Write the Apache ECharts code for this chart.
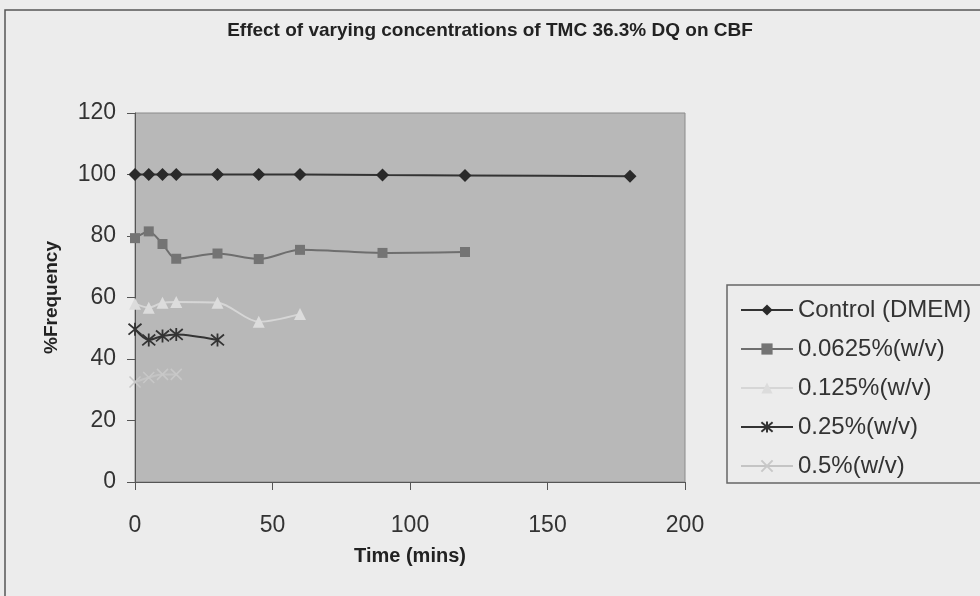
<!DOCTYPE html>
<html>
<head>
<meta charset="utf-8">
<script src="https://cdn.jsdelivr.net/npm/echarts@6/dist/echarts.min.js"></script>
<style>
html,body{margin:0;padding:0;background:#ececec;}
#c{width:980px;height:596px;}
</style>
</head>
<body>
<div id="c"></div>
<script>
const titleText = 'Effect of varying concentrations of TMC 36.3% DQ on CBF';
const xTicks = [0, 50, 100, 150, 200];
const yTicks = [0, 20, 40, 60, 80, 100, 120];

const timesControl = [0, 5, 10, 15, 30, 45, 60, 90, 120, 180];
const valuesControl = [100, 100, 100, 100, 100, 100, 100, 99.8, 99.7, 99.4];

const times0625 = [0, 5, 10, 15, 30, 45, 60, 90, 120];
const values0625 = [79.3, 81.5, 77.4, 72.6, 74.3, 72.5, 75.5, 74.5, 74.8];

const times125 = [0, 5, 10, 15, 30, 45, 60];
const values125 = [58, 56.7, 58.3, 58.5, 58.3, 52.1, 54.6];

const times25 = [0, 5, 10, 15, 30];
const values25 = [49.7, 46.2, 47.5, 48, 46.2];

const times5 = [0, 5, 10, 15];
const values5 = [32.5, 34, 35, 35];

const seriesNames = ['Control (DMEM)', '0.0625%(w/v)', '0.125%(w/v)', '0.25%(w/v)', '0.5%(w/v)'];

function pairs(t, v) { return t.map((x, i) => [x, v[i]]); }

const FONT = 'Liberation Sans, Arial, sans-serif';
const asterisk = 'path://M-5,-5L5,5M5,-5L-5,5M0,-6L0,6';
const cross = 'path://M-5,-5L5,5M5,-5L-5,5';

const chart = echarts.init(document.getElementById('c'));
chart.setOption({
  backgroundColor: '#ececec',
  animation: false,
  title: {
    text: titleText,
    left: 'center',
    top: 16,
    textStyle: {fontFamily: FONT, fontSize: 19, fontWeight: 'bold', color: '#222'}
  },
  grid: {left: 135, right: 295, top: 113, bottom: 114, show: true, backgroundColor: '#b8b8b8', borderColor: '#8a8a8a', borderWidth: 1},
  legend: {
    orient: 'vertical',
    left: 735,
    top: 292,
    itemWidth: 52,
    itemHeight: 14,
    itemGap: 13,
    textStyle: {fontFamily: FONT, fontSize: 24, color: '#333', lineHeight: 26},
    data: seriesNames
  },
  xAxis: {
    type: 'value',
    min: 0, max: 200, interval: 50,
    name: 'Time (mins)',
    nameLocation: 'middle',
    nameGap: 64,
    nameTextStyle: {fontFamily: FONT, fontSize: 20, fontWeight: 'bold', color: '#222'},
    axisLine: {show: true, lineStyle: {color: '#555', width: 1}},
    axisTick: {show: true, length: 8, lineStyle: {color: '#555'}},
    axisLabel: {margin: 32, fontFamily: FONT, fontSize: 23, color: '#333',
      formatter: v => xTicks.includes(v) ? String(v) : ''},
    splitLine: {show: false}
  },
  yAxis: {
    type: 'value',
    min: 0, max: 120, interval: 20,
    name: '%Frequency',
    nameLocation: 'middle',
    nameGap: 74,
    nameTextStyle: {fontFamily: FONT, fontSize: 19, fontWeight: 'bold', color: '#222'},
    axisLine: {show: true, lineStyle: {color: '#555', width: 1}},
    axisTick: {show: true, length: 8, lineStyle: {color: '#555'}},
    axisLabel: {margin: 19, fontFamily: FONT, fontSize: 23, color: '#333',
      formatter: v => yTicks.includes(v) ? String(v) : ''},
    splitLine: {show: false}
  },
  graphic: [
    {type: 'rect', silent: true, z: -10, shape: {x: 5, y: 10, width: 1000, height: 620}, style: {fill: 'none', stroke: '#555', lineWidth: 1.5}},
    {type: 'rect', silent: true, z: -9, shape: {x: 727, y: 285, width: 300, height: 198}, style: {fill: 'none', stroke: '#666', lineWidth: 1.5}}
  ],
  series: [
    {name: seriesNames[0], type: 'line', data: pairs(timesControl, valuesControl), smooth: 0.2,
      symbol: 'diamond', symbolSize: 13, lineStyle: {color: '#333', width: 2}, itemStyle: {color: '#2a2a2a'}},
    {name: seriesNames[1], type: 'line', data: pairs(times0625, values0625), smooth: 0.3,
      symbol: 'rect', symbolSize: 10, lineStyle: {color: '#6e6e6e', width: 2}, itemStyle: {color: '#747474'}},
    {name: seriesNames[2], type: 'line', data: pairs(times125, values125), smooth: 0.3,
      symbol: 'triangle', symbolSize: 12, lineStyle: {color: '#d6d6d6', width: 2}, itemStyle: {color: '#dcdcdc'}},
    {name: seriesNames[3], type: 'line', data: pairs(times25, values25), smooth: 0.3,
      symbol: asterisk, symbolSize: 13, lineStyle: {color: '#333', width: 2},
      itemStyle: {color: '#333', borderColor: '#333', borderWidth: 1.8}},
    {name: seriesNames[4], type: 'line', data: pairs(times5, values5), smooth: 0.3,
      symbol: cross, symbolSize: 11, lineStyle: {color: '#c4c4c4', width: 2},
      itemStyle: {color: '#c8c8c8', borderColor: '#c8c8c8', borderWidth: 1.5}}
  ]
});
</script>
</body>
</html>
